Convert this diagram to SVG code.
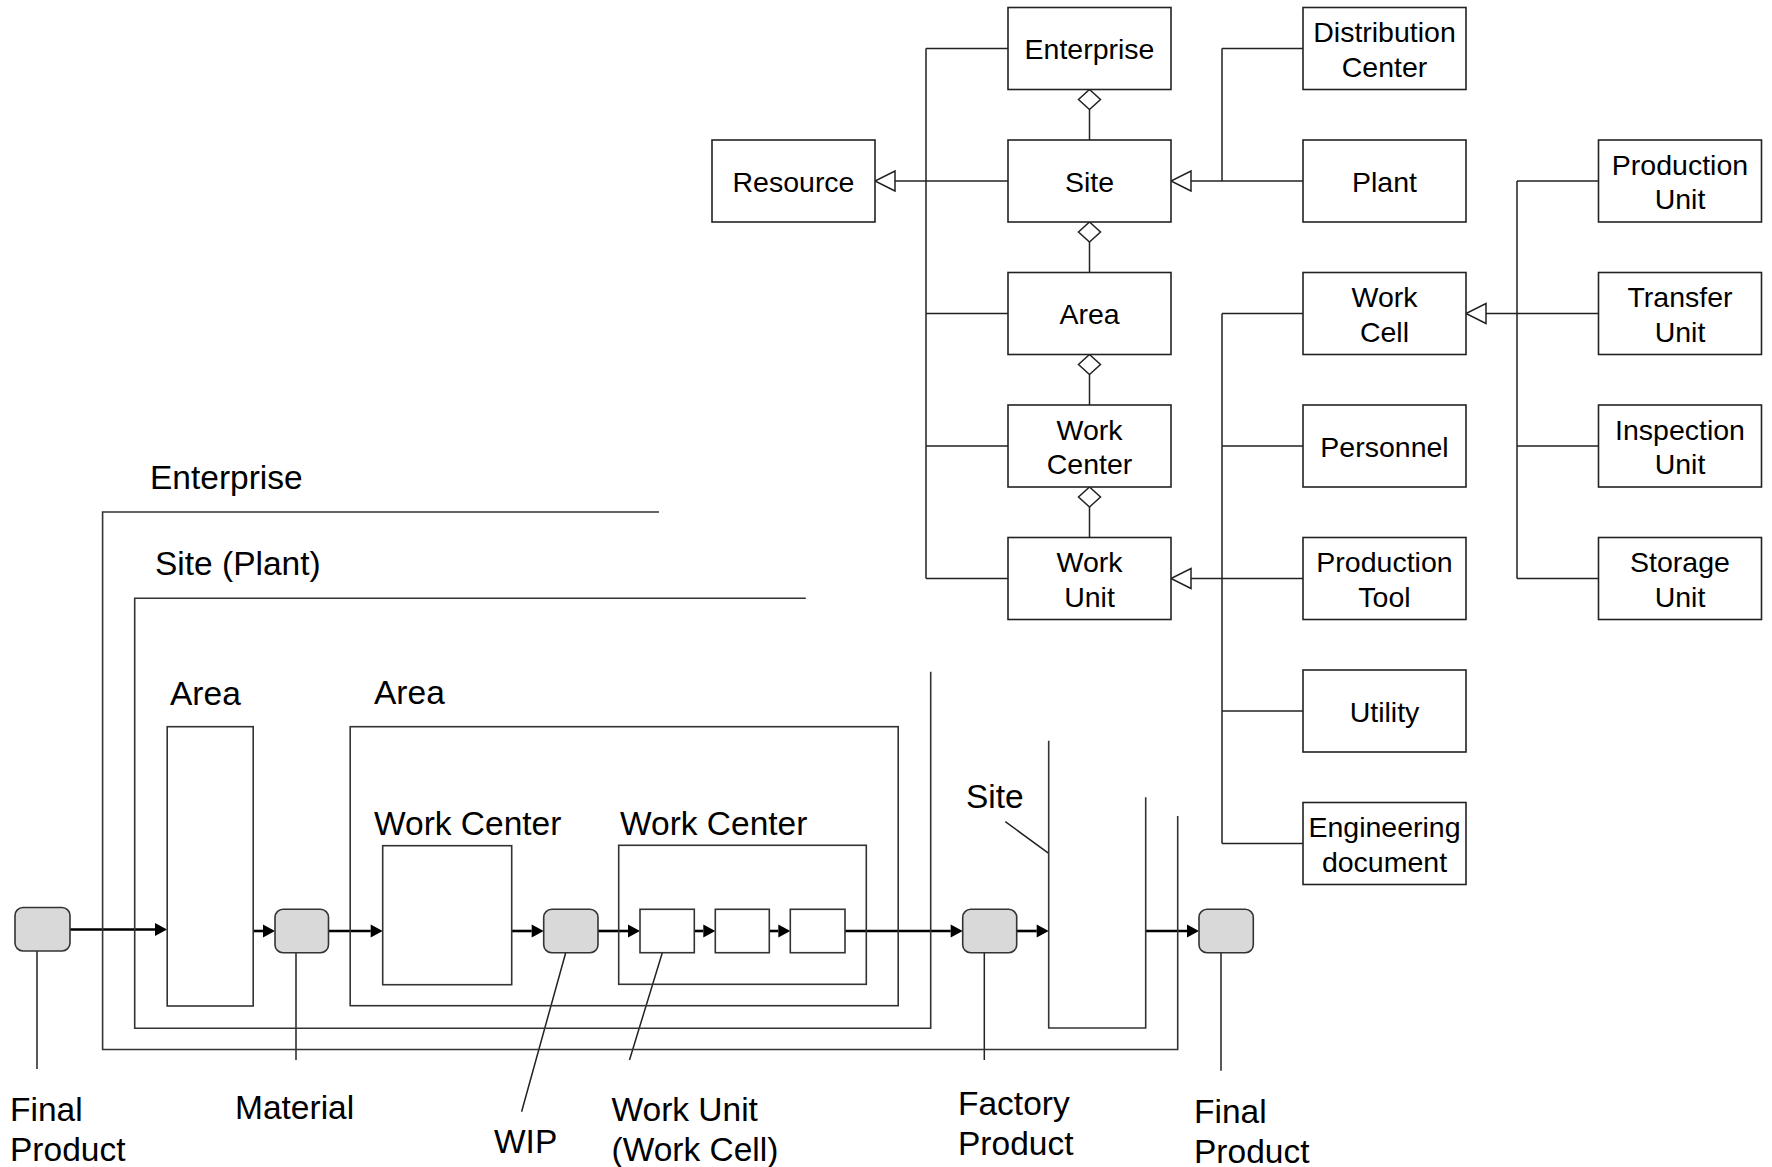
<svg xmlns="http://www.w3.org/2000/svg" width="1772" height="1167" viewBox="0 0 1772 1167">
<defs>
<style>
.box{fill:#fff;stroke:#222;stroke-width:1.6}
.t{font-family:"Liberation Sans",Arial,sans-serif;font-size:28.5px;fill:#000;text-anchor:middle}
.lb{font-family:"Liberation Sans",Arial,sans-serif;font-size:33.5px;fill:#000}
.ln{fill:none;stroke:#222;stroke-width:1.5}
.fr{fill:none;stroke:#333;stroke-width:1.6}
.flow{fill:none;stroke:#000;stroke-width:2.6}
.mat{fill:#d9d9d9;stroke:#333;stroke-width:1.6}
</style>
<marker id="gen" markerUnits="userSpaceOnUse" orient="auto" refX="0" refY="0" markerWidth="22" markerHeight="22" overflow="visible">
<path d="M0,-10 L20,0 L0,10 Z" fill="#fff" stroke="#222" stroke-width="1.5"/>
</marker>
<marker id="dia" markerUnits="userSpaceOnUse" orient="auto" refX="0" refY="0" markerWidth="22" markerHeight="22" overflow="visible">
<path d="M0,0 L-10,-11 L-20,0 L-10,11 Z" fill="#fff" stroke="#222" stroke-width="1.5"/>
</marker>
<marker id="arr" markerUnits="userSpaceOnUse" orient="auto" refX="0" refY="0" markerWidth="14" markerHeight="14" overflow="visible">
<path d="M0,-6.5 L12,0 L0,6.5 Z" fill="#000"/>
</marker>
</defs>
<rect width="1772" height="1167" fill="#fff"/>

<g id="connectors">
<!-- hierarchy tree -->
<path class="ln" d="M926 48.5 V578.5 M926 48.5 H1008 M926 313.5 H1008 M926 446 H1008 M926 578.5 H1008"/>
<path class="ln" d="M1008 181 H895" marker-end="url(#gen)"/>
<path class="ln" d="M1089.5 109.5 V140" marker-start="url(#dia)"/>
<path class="ln" d="M1089.5 242 V272.5" marker-start="url(#dia)"/>
<path class="ln" d="M1089.5 374.5 V405" marker-start="url(#dia)"/>
<path class="ln" d="M1089.5 507 V537.5" marker-start="url(#dia)"/>
<path class="ln" d="M1222 48.5 H1303 M1222 48.5 V181"/>
<path class="ln" d="M1303 181 H1191" marker-end="url(#gen)"/>
<path class="ln" d="M1303 578.5 H1191" marker-end="url(#gen)"/>
<path class="ln" d="M1222 313.5 V843.5 M1222 313.5 H1303 M1222 446 H1303 M1222 711 H1303 M1222 843.5 H1303"/>
<path class="ln" d="M1598.5 313.5 H1486" marker-end="url(#gen)"/>
<path class="ln" d="M1517 181 V578.5 M1517 181 H1598.5 M1517 446 H1598.5 M1517 578.5 H1598.5"/>
<!-- material flow -->
<path class="flow" d="M70 929.5 H155" marker-end="url(#arr)"/>
<path class="flow" d="M253.3 931 H263" marker-end="url(#arr)"/>
<path class="flow" d="M328.5 931 H370.7" marker-end="url(#arr)"/>
<path class="flow" d="M511.5 931 H531.7" marker-end="url(#arr)"/>
<path class="flow" d="M598 931 H628" marker-end="url(#arr)"/>
<path class="flow" d="M694.3 931 H703.3" marker-end="url(#arr)"/>
<path class="flow" d="M769.3 931 H778.3" marker-end="url(#arr)"/>
<path class="flow" d="M845 931 H950.7" marker-end="url(#arr)"/>
<path class="flow" d="M1016.7 931 H1036.7" marker-end="url(#arr)"/>
<path class="flow" d="M1145.7 931 H1187" marker-end="url(#arr)"/>
<!-- label leaders -->
<path class="ln" d="M37 950.5 V1069 M296 952.7 V1060 M565.7 952.7 L521.6 1111.7 M662.3 952.7 L629.5 1060 M984.3 952.7 V1060 M1221 952.7 V1070.7 M1005.3 821.7 L1048.7 853.3"/>
</g>

<!-- hierarchy nodes -->
<g id="n-resource"><rect class="box" x="712" y="140" width="163" height="82"/><text class="t" x="793.5" y="191.5">Resource</text></g>
<g id="n-enterprise"><rect class="box" x="1008" y="7.5" width="163" height="82"/><text class="t" x="1089.5" y="59">Enterprise</text></g>
<g id="n-site"><rect class="box" x="1008" y="140" width="163" height="82"/><text class="t" x="1089.5" y="191.5">Site</text></g>
<g id="n-area"><rect class="box" x="1008" y="272.5" width="163" height="82"/><text class="t" x="1089.5" y="324">Area</text></g>
<g id="n-workcenter"><rect class="box" x="1008" y="405" width="163" height="82"/><text class="t" x="1089.5" y="439.5">Work</text><text class="t" x="1089.5" y="474">Center</text></g>
<g id="n-workunit"><rect class="box" x="1008" y="537.5" width="163" height="82"/><text class="t" x="1089.5" y="572">Work</text><text class="t" x="1089.5" y="606.5">Unit</text></g>
<g id="n-distribution"><rect class="box" x="1303" y="7.5" width="163" height="82"/><text class="t" x="1384.5" y="42">Distribution</text><text class="t" x="1384.5" y="76.5">Center</text></g>
<g id="n-plant"><rect class="box" x="1303" y="140" width="163" height="82"/><text class="t" x="1384.5" y="191.5">Plant</text></g>
<g id="n-workcell"><rect class="box" x="1303" y="272.5" width="163" height="82"/><text class="t" x="1384.5" y="307">Work</text><text class="t" x="1384.5" y="341.5">Cell</text></g>
<g id="n-personnel"><rect class="box" x="1303" y="405" width="163" height="82"/><text class="t" x="1384.5" y="456.5">Personnel</text></g>
<g id="n-productiontool"><rect class="box" x="1303" y="537.5" width="163" height="82"/><text class="t" x="1384.5" y="572">Production</text><text class="t" x="1384.5" y="606.5">Tool</text></g>
<g id="n-utility"><rect class="box" x="1303" y="670" width="163" height="82"/><text class="t" x="1384.5" y="721.5">Utility</text></g>
<g id="n-engdoc"><rect class="box" x="1303" y="802.5" width="163" height="82"/><text class="t" x="1384.5" y="837">Engineering</text><text class="t" x="1384.5" y="871.5">document</text></g>
<g id="n-productionunit"><rect class="box" x="1598.5" y="140" width="163" height="82"/><text class="t" x="1680" y="174.5">Production</text><text class="t" x="1680" y="209">Unit</text></g>
<g id="n-transferunit"><rect class="box" x="1598.5" y="272.5" width="163" height="82"/><text class="t" x="1680" y="307">Transfer</text><text class="t" x="1680" y="341.5">Unit</text></g>
<g id="n-inspectionunit"><rect class="box" x="1598.5" y="405" width="163" height="82"/><text class="t" x="1680" y="439.5">Inspection</text><text class="t" x="1680" y="474">Unit</text></g>
<g id="n-storageunit"><rect class="box" x="1598.5" y="537.5" width="163" height="82"/><text class="t" x="1680" y="572">Storage</text><text class="t" x="1680" y="606.5">Unit</text></g>

<!-- physical layout -->
<g id="f-enterprise"><path class="fr" d="M659 512 H102.6 V1049.5 H1177.7 V816"/><text class="lb" x="150" y="489">Enterprise</text></g>
<g id="f-site"><path class="fr" d="M805.8 598.3 H134.7 V1028.3 H930.7 V671.7"/><text class="lb" x="155" y="575">Site (Plant)</text></g>
<g id="f-area1"><rect class="fr" x="167.2" y="726.7" width="86" height="279.3"/><text class="lb" x="170" y="705">Area</text></g>
<g id="f-area2"><rect class="fr" x="350.2" y="726.7" width="548" height="279"/><text class="lb" x="374" y="704">Area</text></g>
<g id="f-wc1"><rect class="fr" x="382.7" y="845.7" width="129" height="139"/><text class="lb" x="374" y="835">Work Center</text></g>
<g id="f-wc2"><rect class="fr" x="618.7" y="845.3" width="247.6" height="139"/><text class="lb" x="620" y="835">Work Center</text></g>
<g id="f-cell1"><rect class="fr" x="640" y="909.3" width="54.3" height="43.4"/></g>
<g id="f-cell2"><rect class="fr" x="715.3" y="909.3" width="54" height="43.4"/></g>
<g id="f-cell3"><rect class="fr" x="790.3" y="909.3" width="54.7" height="43.4"/></g>
<g id="f-site2"><path class="fr" d="M1048.7 740.7 V1028 H1145.7 V797.3"/><text class="lb" x="966" y="808">Site</text></g>

<g id="m-final1"><rect class="mat" x="15" y="907.5" width="55" height="43.5" rx="8"/><text class="lb" x="10" y="1121">Final</text><text class="lb" x="10" y="1161">Product</text></g>
<g id="m-material"><rect class="mat" x="275" y="909.3" width="53.5" height="43.4" rx="8"/><text class="lb" x="235" y="1119">Material</text></g>
<g id="m-wip"><rect class="mat" x="543.7" y="909.3" width="54.3" height="43.4" rx="8"/><text class="lb" x="494" y="1153">WIP</text></g>
<g id="m-workunit-label"><text class="lb" x="611.5" y="1121">Work Unit</text><text class="lb" x="611.5" y="1161">(Work Cell)</text></g>
<g id="m-factory"><rect class="mat" x="962.7" y="909.3" width="54" height="43.4" rx="8"/><text class="lb" x="958" y="1115">Factory</text><text class="lb" x="958" y="1155">Product</text></g>
<g id="m-final2"><rect class="mat" x="1199" y="909.3" width="54.3" height="43.4" rx="8"/><text class="lb" x="1194" y="1123">Final</text><text class="lb" x="1194" y="1163">Product</text></g>
</svg>
